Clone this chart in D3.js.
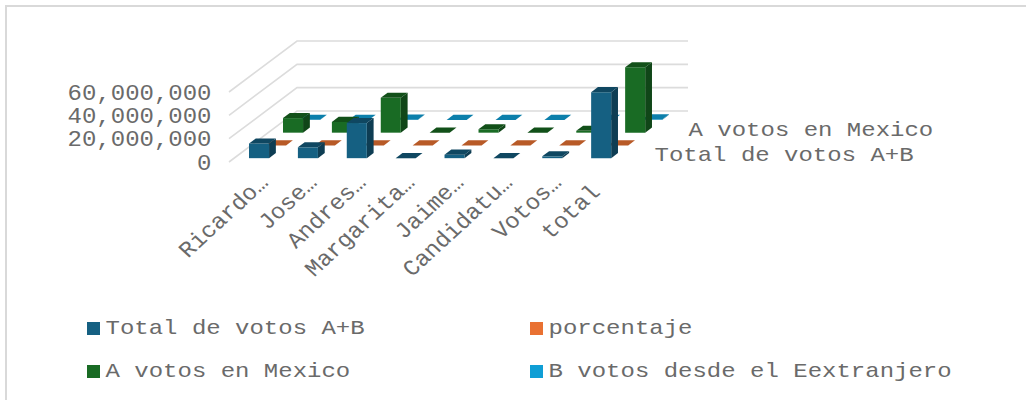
<!DOCTYPE html>
<html lang="en">
<head>
<meta charset="UTF-8">
<title>Votos</title>
<script src="https://d3js.org/d3.v7.min.js"></script>
<style>
    html, body { margin: 0; padding: 0; background: #fff; overflow: hidden; }
    text { font-family: "Liberation Mono", monospace; fill: #6a6a6a; white-space: pre; }
</style>
</head>
<body>
<div id="chart"></div>
<script>
    // Data
    var categories = ["Ricardo…", "Jose…", "Andres…", "Margarita…", "Jaime…", "Candidatu…", "Votos…", "total "];
    var seriesNames = ["Total de votos A+B", "porcentaje", "A votos en Mexico", "B votos desde el Eextranjero"];
    var totalVotes = [12600000, 9300000, 30100000, 30000, 2960000, 30000, 1570000, 56600000];
    var percentage = [22, 16, 53, 0, 5, 0, 3, 100];
    var mexicoVotes = [12500000, 9200000, 29900000, 30000, 2900000, 30000, 1560000, 56000000];
    var abroadVotes = [100000, 60000, 200000, 0, 20000, 0, 10000, 400000];
    var yTicks = [0, 20000000, 40000000, 60000000];
    var depthLabels = ["Total de votos A+B", "A votos en Mexico"];

    var seriesValues = [totalVotes, percentage, mexicoVotes, abroadVotes];
    var faces = [
        { front: "#156082", side: "#0e3d53", top: "#0f4761" },
        { front: "#e97132", side: "#a04d22", top: "#b85a27" },
        { front: "#196b24", side: "#104618", top: "#125019" },
        { front: "#0f9ed5", side: "#0a6a8f", top: "#0c7fab" }
    ];

    var width = 1026, height = 400;
    var depthX = 68, depthY = 51;
    var textSquash = 0.85;

    var svg = d3.select("#chart").append("svg")
        .attr("width", width)
        .attr("height", height);

    // chart frame, only top and left show in the crop
    svg.append("path")
        .attr("d", "M6,400V6H1026")
        .attr("fill", "none")
        .attr("stroke", "#d9d9d9")
        .attr("stroke-width", 2);

    var x = d3.scaleBand().domain(categories).range([229.5, 620.5]).paddingInner(0.59).paddingOuter(0.295);
    var y = d3.scaleLinear().domain([0, 60000000]).range([162, 92]);
    var depth = d3.scaleBand().domain(seriesNames).range([0, 1]).paddingInner(0.6).paddingOuter(0.3);

    // project a point (px along x, px along y, depth 0..1) onto the screen
    function pt(px, py, d) {
        return [px + d * depthX, py - d * depthY];
    }
    function poly(points) {
        return points.map(function(p) { return p.join(","); }).join(" ");
    }

    // Walls: gridlines
    svg.append("g").selectAll("polyline")
        .data(yTicks)
        .enter().append("polyline")
        .attr("points", function(t) {
            return poly([pt(229, y(t), 0), pt(229, y(t), 1), pt(620, y(t), 1)]);
        })
        .attr("fill", "none")
        .attr("stroke", "#dcdcdc")
        .attr("stroke-width", 1.6);

    // Bars, back series first
    d3.range(seriesNames.length - 1, -1, -1).forEach(function(s) {
        var d0 = depth(seriesNames[s]);
        var d1 = d0 + depth.bandwidth();
        var g = svg.append("g");
        seriesValues[s].forEach(function(v, i) {
            var x0 = x(categories[i]);
            var x1 = x0 + x.bandwidth();
            var yb = y(0), yt = y(v);
            g.append("polygon")
                .attr("points", poly([pt(x1, yb, d0), pt(x1, yb, d1), pt(x1, yt, d1), pt(x1, yt, d0)]))
                .attr("fill", faces[s].side);
            g.append("polygon")
                .attr("points", poly([pt(x0, yb, d0), pt(x1, yb, d0), pt(x1, yt, d0), pt(x0, yt, d0)]))
                .attr("fill", faces[s].front);
            g.append("polygon")
                .attr("points", poly([pt(x0, yt, d0), pt(x1, yt, d0), pt(x1, yt, d1), pt(x0, yt, d1)]))
                .attr("fill", faces[s].top);
        });
    });

    // Y axis
    var yAxis = svg.append("g")
        .attr("transform", "translate(211.5,0)")
        .call(d3.axisLeft(y).tickValues(yTicks).tickSize(0).tickFormat(d3.format(",")));
    yAxis.select(".domain").remove();
    yAxis.selectAll("text")
        .attr("x", 0)
        .attr("y", 7.4)
        .attr("dy", 0)
        .attr("transform", "scale(1,0.95)")
        .style("font-family", "Liberation Mono")
        .style("font-size", "24px");

    // X axis
    var xAxis = svg.append("g")
        .attr("transform", "translate(0,176)")
        .call(d3.axisBottom(x).tickSize(0));
    xAxis.select(".domain").remove();
    xAxis.selectAll("text")
        .attr("x", 0)
        .attr("y", 0)
        .attr("dy", "0.5em")
        .attr("text-anchor", "end")
        .attr("transform", "translate(7,0) scale(1,0.92) rotate(-45)")
        .style("font-family", "Liberation Mono")
        .style("font-size", "24px");

    // Depth axis labels
    svg.append("g").selectAll("text")
        .data(depthLabels)
        .enter().append("text")
        .attr("transform", function(name) {
            var d = depth(name) + depth.bandwidth() / 2;
            var p = pt(620 + 26, 162.5, d);
            return "translate(" + p[0] + "," + (p[1] + 5) + ") scale(1," + textSquash + ")";
        })
        .style("font-size", "24px")
        .text(function(name) { return name; });

    // Legend
    var legendX = d3.scalePoint().domain([0, 1]).range([87, 530]);
    var legendY = d3.scalePoint().domain([0, 1]).range([328.5, 371.5]);
    var legend = svg.append("g").selectAll("g")
        .data(seriesNames)
        .enter().append("g")
        .attr("transform", function(name, i) {
            return "translate(" + legendX(i % 2) + "," + legendY(Math.floor(i / 2)) + ")";
        });
    legend.append("rect")
        .attr("y", -6.5)
        .attr("width", 13)
        .attr("height", 13)
        .attr("fill", function(name, i) { return faces[i].front; });
    legend.append("text")
        .attr("transform", "translate(18.5,5) scale(1," + textSquash + ")")
        .style("font-size", "24px")
        .text(function(name) { return name; });
</script>
</body>
</html>
